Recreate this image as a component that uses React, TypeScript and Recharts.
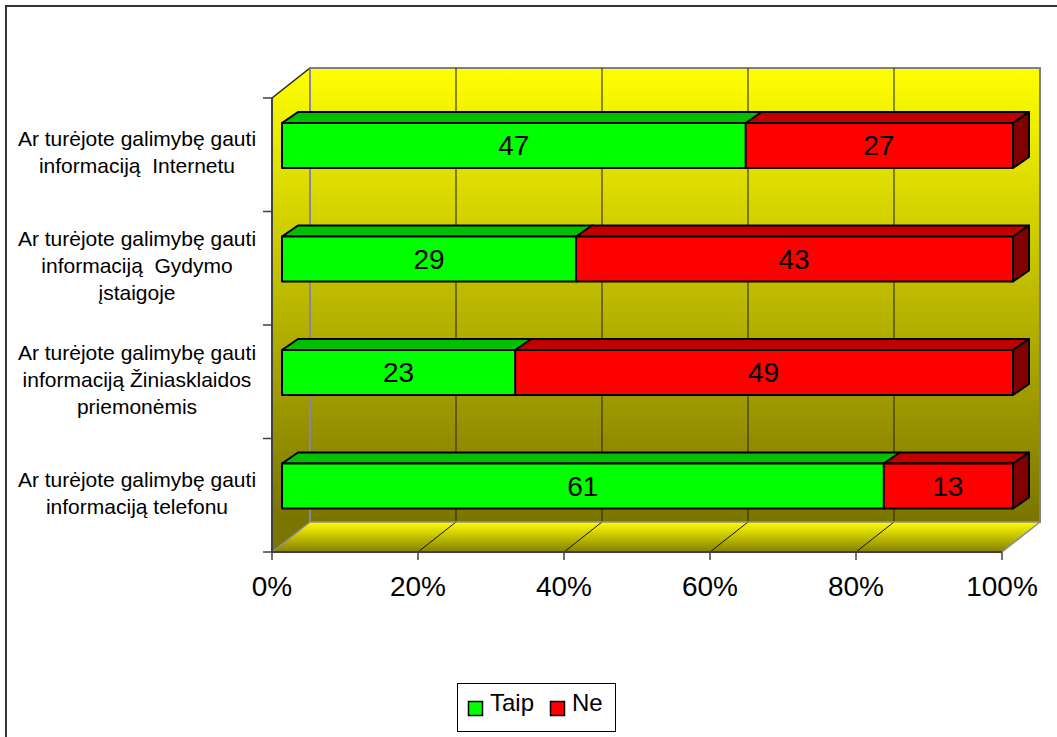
import React from 'react';
import { BarChart, Bar, XAxis, YAxis, ReferenceArea, LabelList } from 'recharts';

const categories = [
  'Ar turėjote galimybę gauti\ninformaciją  Internetu',
  'Ar turėjote galimybę gauti\ninformaciją  Gydymo\nįstaigoje',
  'Ar turėjote galimybę gauti\ninformaciją Žiniasklaidos\npriemonėmis',
  'Ar turėjote galimybę gauti\ninformaciją telefonu',
];
const taip = [47, 29, 23, 61];
const ne = [27, 43, 49, 13];
const xTicks = [0, 0.2, 0.4, 0.6, 0.8, 1];

const data = categories.map((name, i) => ({ name, taip: taip[i], ne: ne[i] }));

const FONT = '"Liberation Sans", Arial, sans-serif';
// 3d look
const DEPTH_X = 38;
const DEPTH_Y = 30;
const BAR_DX = 10;
const BAR_DY = 9;
const TOP_DX = 16;
const TOP_DY = 11;

const Walls = (props: any) => {
  const { x, y, width, height } = props;
  const bx = x + DEPTH_X;
  const by = y - DEPTH_Y;
  const bottom = y + height;
  const backBottom = bottom - DEPTH_Y;
  const n = categories.length;
  return (
    <g>
      <defs>
        <linearGradient id="wallGrad" gradientUnits="userSpaceOnUse" x1="0" y1={by} x2="0" y2={backBottom}>
          <stop offset="0" stopColor="#ffff00" />
          <stop offset="1" stopColor="#7a7400" />
        </linearGradient>
        <linearGradient id="floorGrad" gradientUnits="userSpaceOnUse" x1="0" y1={backBottom} x2="0" y2={bottom}>
          <stop offset="0" stopColor="#ffff00" />
          <stop offset="1" stopColor="#858000" />
        </linearGradient>
      </defs>
      <polygon
        points={`${x},${y} ${bx},${by} ${bx},${bottom} ${x},${bottom}`}
        fill="url(#wallGrad)"
      />
      <rect x={bx} y={by} width={width} height={height} fill="url(#wallGrad)" stroke="#808080" strokeWidth={2} />
      <polygon
        points={`${x},${bottom} ${x + width},${bottom} ${bx + width},${backBottom} ${bx},${backBottom}`}
        fill="url(#floorGrad)"
      />
      <line x1={x} y1={y} x2={bx} y2={by} stroke="#222" strokeWidth={1.5} />
      {xTicks.map((t, i) => {
        const gx = bx + t * width;
        const fx = x + t * width;
        const edge = i === 0 || i === xTicks.length - 1;
        return (
          <g key={i}>
            {i > 0 && i < xTicks.length - 1 && (
              <line x1={gx} y1={by} x2={gx} y2={backBottom} stroke="rgba(40,40,20,0.7)" strokeWidth={1.5} />
            )}
            <line x1={fx} y1={bottom} x2={gx} y2={backBottom} stroke={edge ? '#8a8aa0' : '#111'} strokeWidth={edge ? 1.5 : 1} />
          </g>
        );
      })}
      <line x1={bx} y1={by} x2={bx} y2={backBottom} stroke="#8a8aa8" strokeWidth={1.5} />
      <line x1={bx} y1={backBottom} x2={bx + width} y2={backBottom} stroke="#8a8a90" strokeWidth={1.5} />
      {Array.from({ length: n + 1 }, (_, k) => (
        <line key={k} x1={x - 9} y1={y + (k * height) / n} x2={x} y2={y + (k * height) / n} stroke="#404040" strokeWidth={1.5} />
      ))}
    </g>
  );
};

const makeBox = (front: string, top: string, side: string | null) => (props: any) => {
  const { x, y, width, height } = props;
  if (!width || width <= 0) return null;
  const fx = x + BAR_DX;
  const fy = y - BAR_DY;
  const w = width + 1;
  return (
    <g stroke="#000" strokeWidth={2} strokeLinejoin="round">
      <polygon
        points={`${fx},${fy} ${fx + w},${fy} ${fx + w + TOP_DX},${fy - TOP_DY} ${fx + TOP_DX},${fy - TOP_DY}`}
        fill={top}
      />
      {side && (
        <polygon
          points={`${fx + w},${fy} ${fx + w + TOP_DX},${fy - TOP_DY} ${fx + w + TOP_DX},${fy + height - TOP_DY} ${fx + w},${fy + height}`}
          fill={side}
        />
      )}
      <rect x={fx} y={fy} width={w} height={height} fill={front} />
    </g>
  );
};

const ValueLabel = (props: any) => {
  const vb = props.viewBox || props;
  const x = props.x ?? vb.x;
  const y = props.y ?? vb.y;
  const width = props.width ?? vb.width;
  const height = props.height ?? vb.height;
  return (
    <text
      x={x + width / 2 + BAR_DX}
      y={y + height / 2 - BAR_DY}
      textAnchor="middle"
      dominantBaseline="central"
      fontSize={28}
      fontFamily={FONT}
      fill="#000"
    >
      {props.value}
    </text>
  );
};

const CategoryTick = (props: any) => {
  const { y, payload } = props;
  const lines = String(payload.value).split('\n');
  const lh = 27;
  const first = y - ((lines.length - 1) * lh) / 2 + 5;
  return (
    <text textAnchor="middle" fontSize={21} fontFamily={FONT} fill="#000" style={{ whiteSpace: 'pre' }}>
      {lines.map((l, i) => (
        <tspan key={i} x={137} y={first + i * lh}>
          {l}
        </tspan>
      ))}
    </text>
  );
};

const App = () => {
  return (
    <div style={{ position: 'fixed', left: 0, top: 0, width: 1057, height: 737, background: '#fff', overflow: 'hidden' }}>
      <div style={{ position: 'absolute', left: 5, top: 5, width: 1200, height: 900, border: '2px solid #333' }} />
      <div style={{ position: 'absolute', left: 0, top: 0 }}>
        <BarChart
          width={1057}
          height={737}
          data={data}
          layout="vertical"
          stackOffset="expand"
          barCategoryGap="30%"
          margin={{ top: 98, right: 55, bottom: 125, left: 10 }}
        >
          <ReferenceArea x1={0} x2={1} ifOverflow="visible" shape={(p: any) => <Walls {...p} />} />
          <XAxis
            type="number"
            domain={[0, 1]}
            ticks={xTicks}
            interval={0}
            tickFormatter={(v: number) => `${Math.round(v * 100)}%`}
            height={60}
            axisLine={{ stroke: '#404040', strokeWidth: 2 }}
            tickLine={{ stroke: '#404040', strokeWidth: 1.5 }}
            tickSize={8}
            tickMargin={16}
            tick={{ fontSize: 28, fill: '#000', fontFamily: FONT }}
          />
          <YAxis
            type="category"
            dataKey="name"
            width={262}
            interval={0}
            axisLine={{ stroke: '#404040', strokeWidth: 2 }}
            tickLine={false}
            tick={(p: any) => <CategoryTick {...p} />}
          />
          <Bar dataKey="taip" stackId="a" isAnimationActive={false} shape={makeBox('#00ff00', '#00c000', null)}>
            <LabelList dataKey="taip" content={(p: any) => <ValueLabel {...p} />} />
          </Bar>
          <Bar dataKey="ne" stackId="a" isAnimationActive={false} shape={makeBox('#ff0000', '#c00000', '#800000')}>
            <LabelList dataKey="ne" content={(p: any) => <ValueLabel {...p} />} />
          </Bar>
        </BarChart>
      </div>
      <svg style={{ position: 'absolute', left: 457, top: 683 }} width={160} height={50}>
        <rect x={0.5} y={0.5} width={158} height={48} fill="#fff" stroke="#000" strokeWidth={1} />
        <rect x={11.5} y={18.5} width={14} height={14} fill="#00ff00" stroke="#000" strokeWidth={1.5} />
        <text x={33} y={28} fontSize={24} fontFamily={FONT} fill="#000">Taip</text>
        <rect x={93.5} y={18.5} width={14} height={14} fill="#ff0000" stroke="#000" strokeWidth={1.5} />
        <text x={115} y={28} fontSize={24} fontFamily={FONT} fill="#000">Ne</text>
      </svg>
    </div>
  );
};

export default App;
